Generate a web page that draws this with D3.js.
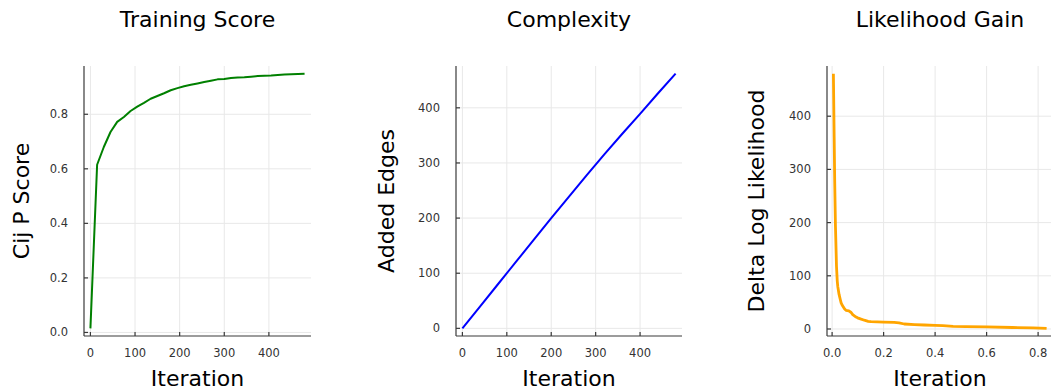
<!DOCTYPE html>
<html>
<head>
<meta charset="utf-8">
<script src="https://cdn.jsdelivr.net/npm/d3@7"></script>
<style>
  body { margin: 0; background: #fff; }
  svg { display: block; font-family: "DejaVu Sans", sans-serif; }
  .tick-label { font-size: 11.5px; fill: #333; }
  .title, .axis-label { font-size: 22px; fill: #000; }
  .grid { stroke: #e8e8e8; stroke-width: 1; }
  .spine { stroke: #3a3a3a; stroke-width: 1.2; }
</style>
</head>
<body>
<svg width="1051" height="391"></svg>
<script>
// training score
var scoreIter = [0, 15, 30, 45, 60, 75, 90, 105, 120, 135, 150, 165, 180, 195, 210, 225, 240,
  255, 270, 285, 300, 315, 330, 345, 360, 375, 390, 405, 420, 435, 450, 465, 480];
var scoreVals = [0.015, 0.615, 0.68, 0.735, 0.772, 0.79, 0.812, 0.828, 0.842, 0.857, 0.867,
  0.877, 0.888, 0.896, 0.903, 0.908, 0.913, 0.918, 0.923, 0.928, 0.929, 0.933, 0.935, 0.936,
  0.938, 0.940, 0.941, 0.942, 0.944, 0.946, 0.947, 0.948, 0.949];

// complexity
var edgesIter = [0, 40, 80, 120, 160, 200, 240, 280, 320, 360, 400, 440, 480];
var edgesVals = [0, 40, 80, 120, 160, 200, 239, 278, 316, 353, 389, 426, 462];

// likelihood gain
var gainX = [0.005, 0.008, 0.010, 0.013, 0.017, 0.020, 0.022, 0.027, 0.032, 0.035, 0.040,
  0.048, 0.054, 0.065, 0.074, 0.080, 0.093, 0.099, 0.110, 0.125, 0.140, 0.151, 0.20, 0.241,
  0.26, 0.28, 0.32, 0.358, 0.40, 0.43, 0.47, 0.52, 0.60, 0.70, 0.78, 0.833];
var gainVals = [480, 360, 280, 193, 118, 90, 80, 65, 55, 49, 44, 38, 35, 34, 31, 27, 22.5, 21,
  19, 16.5, 14.5, 13.7, 13, 12.4, 11.5, 9.4, 8.3, 7.5, 6.8, 6.2, 5, 4.5, 3.8, 2.8, 2, 1.2];

var iterTicks = [0, 100, 200, 300, 400];
var fracTicks = [0.0, 0.2, 0.4, 0.6, 0.8];
var hundredTicks = [0, 100, 200, 300, 400];

var panels = [
  { title: "Training Score", ylabel: "Cij P Score", xs: scoreIter, ys: scoreVals,
    color: "#008000", width: 2, left: 84, right: 311, ylabX: 29,
    xticks: iterTicks, xfmt: d3.format("d"), yticks: fracTicks, yfmt: d3.format(".1f") },
  { title: "Complexity", ylabel: "Added Edges", xs: edgesIter, ys: edgesVals,
    color: "#0000ff", width: 2, left: 456, right: 682, ylabX: 394,
    xticks: iterTicks, xfmt: d3.format("d"), yticks: hundredTicks, yfmt: d3.format("d") },
  { title: "Likelihood Gain", ylabel: "Delta Log Likelihood", xs: gainX, ys: gainVals,
    color: "#ffa500", width: 2.8, left: 827, right: 1053, ylabX: 764,
    xticks: fracTicks, xfmt: d3.format(".1f"), yticks: hundredTicks, yfmt: d3.format("d") }
];

var plotTop = 66, plotBottom = 336;
var svg = d3.select("svg");

// widen extent by 3% like the plotting lib does
function padded(arr) {
  var e = d3.extent(arr), p = (e[1] - e[0]) * 0.03;
  return [e[0] - p, e[1] + p];
}

panels.forEach(function (p) {
  var x = d3.scaleLinear().domain(padded(p.xs)).range([p.left, p.right]);
  var y = d3.scaleLinear().domain(padded(p.ys)).range([plotBottom, plotTop]);
  var g = svg.append("g");

  g.selectAll(".gx").data(p.xticks).enter().append("line")
    .attr("class", "grid")
    .attr("x1", d => x(d)).attr("x2", d => x(d))
    .attr("y1", plotTop).attr("y2", plotBottom);
  g.selectAll(".gy").data(p.yticks).enter().append("line")
    .attr("class", "grid")
    .attr("x1", p.left).attr("x2", p.right)
    .attr("y1", d => y(d)).attr("y2", d => y(d));

  var line = d3.line().x(d => x(d[0])).y(d => y(d[1]));
  g.append("path")
    .datum(d3.zip(p.xs, p.ys))
    .attr("d", line)
    .attr("fill", "none")
    .attr("stroke", p.color)
    .attr("stroke-width", p.width)
    .attr("stroke-linejoin", "round");

  // spines
  g.append("line").attr("class", "spine")
    .attr("x1", p.left).attr("x2", p.left).attr("y1", plotTop).attr("y2", plotBottom);
  g.append("line").attr("class", "spine")
    .attr("x1", p.left).attr("x2", p.right).attr("y1", plotBottom).attr("y2", plotBottom);

  // ticks (inward)
  g.selectAll(".tx").data(p.xticks).enter().append("line")
    .attr("class", "spine")
    .attr("x1", d => x(d)).attr("x2", d => x(d))
    .attr("y1", plotBottom).attr("y2", plotBottom - 4);
  g.selectAll(".ty").data(p.yticks).enter().append("line")
    .attr("class", "spine")
    .attr("x1", p.left).attr("x2", p.left + 4)
    .attr("y1", d => y(d)).attr("y2", d => y(d));

  g.selectAll(".lx").data(p.xticks).enter().append("text")
    .attr("class", "tick-label")
    .attr("x", d => x(d)).attr("y", 357)
    .attr("text-anchor", "middle")
    .text(p.xfmt);
  g.selectAll(".ly").data(p.yticks).enter().append("text")
    .attr("class", "tick-label")
    .attr("x", p.left - 16).attr("y", d => y(d))
    .attr("dy", "0.35em")
    .attr("text-anchor", "end")
    .text(p.yfmt);

  var cx = (p.left + p.right) / 2;
  g.append("text").attr("class", "title")
    .attr("x", cx).attr("y", 27).attr("text-anchor", "middle").text(p.title);
  g.append("text").attr("class", "axis-label")
    .attr("x", cx).attr("y", 386).attr("text-anchor", "middle").text("Iteration");
  g.append("text").attr("class", "axis-label")
    .attr("transform", "translate(" + p.ylabX + "," + (plotTop + plotBottom) / 2 + ") rotate(-90)")
    .attr("text-anchor", "middle").text(p.ylabel);
});
</script>
</body>
</html>
